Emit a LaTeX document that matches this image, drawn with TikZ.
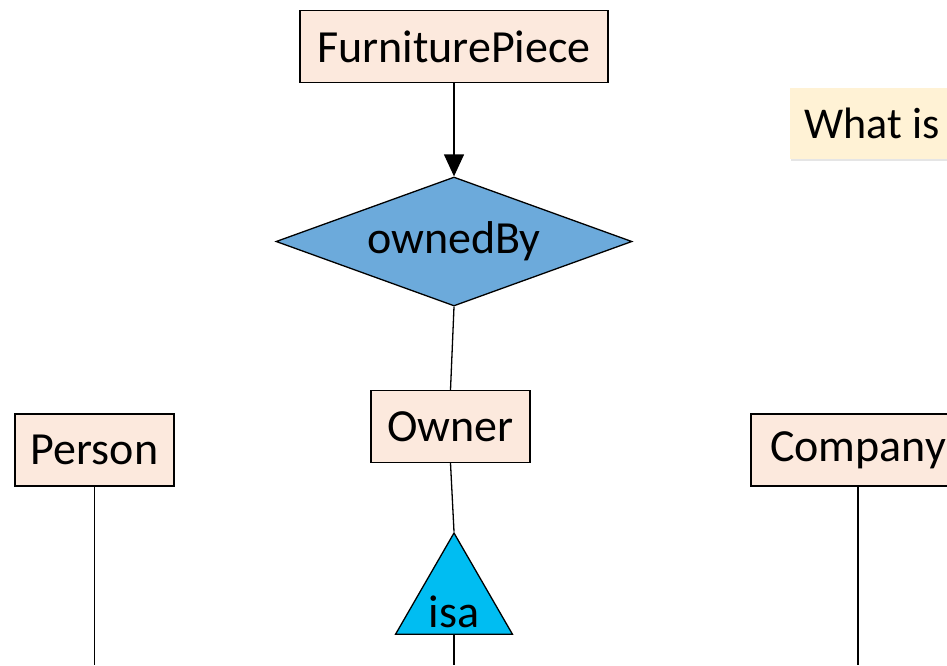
\documentclass[tikz,border=0pt]{standalone}
\usepackage{fontspec}
\setmainfont{Carlito}
\usetikzlibrary{shapes.geometric, positioning, arrows.meta, shadows}

\definecolor{entityfill}{HTML}{FCE9DD}
\definecolor{relfill}{HTML}{6CAADB}
\definecolor{isafill}{HTML}{00BDF2}
\definecolor{notefill}{HTML}{FFF2D5}

\begin{document}
\begin{tikzpicture}[x=1pt, y=-1pt, on grid, node distance=195pt, line width=1.3pt,
  >={Triangle[width=20pt, length=22pt]},
  entity/.style={draw, fill=entityfill, minimum height=72pt, inner xsep=14pt,
    font=\fontsize{46}{55}\selectfont},
  relation/.style={diamond, draw, fill=relfill, inner sep=0pt, aspect=2.76,
    minimum width=356pt, minimum height=129pt, font=\fontsize{46}{55}\selectfont},
  isatri/.style={regular polygon, regular polygon sides=3, draw, fill=isafill,
    inner sep=0pt, minimum size=135pt},
  note/.style={fill=notefill, minimum height=71pt, inner xsep=15pt,
    drop shadow={shadow xshift=1.5pt, shadow yshift=-2pt, fill=black!20},
    font=\fontsize{44}{55}\selectfont}]

\useasboundingbox (0,0) rectangle (947,665);

\node[entity, minimum width=308pt] (fp) at (454,46.5) {FurniturePiece};
\node[relation] (owned) [below=of fp] {ownedBy};
\node[entity, minimum width=159pt] (owner) at (450.5,426.5) {Owner};
\node[isatri, label={[font=\fontsize{46}{55}\selectfont, yshift=-11pt]center:isa}] (isa) at (454,600.5) {};
\node[entity, minimum width=159pt] (person) at (94.5,450) {Person};
\node[entity, minimum width=214pt] (company) at (858,450) {Company};
\node[note, anchor=west] (what) at (789,123.5) {What is\hspace{40pt}};

\coordinate (pbot) at (94.5,665);
\coordinate (ibot) at (454,665);
\coordinate (cbot) at (858,665);

\path[->] (fp) edge (owned);
\path
  (owned.south) edge (owner.north)
  (owner.south) edge (isa.corner 1)
  (isa.south) edge (ibot)
  (person) edge (pbot)
  (company) edge (cbot);

\end{tikzpicture}
\end{document}
